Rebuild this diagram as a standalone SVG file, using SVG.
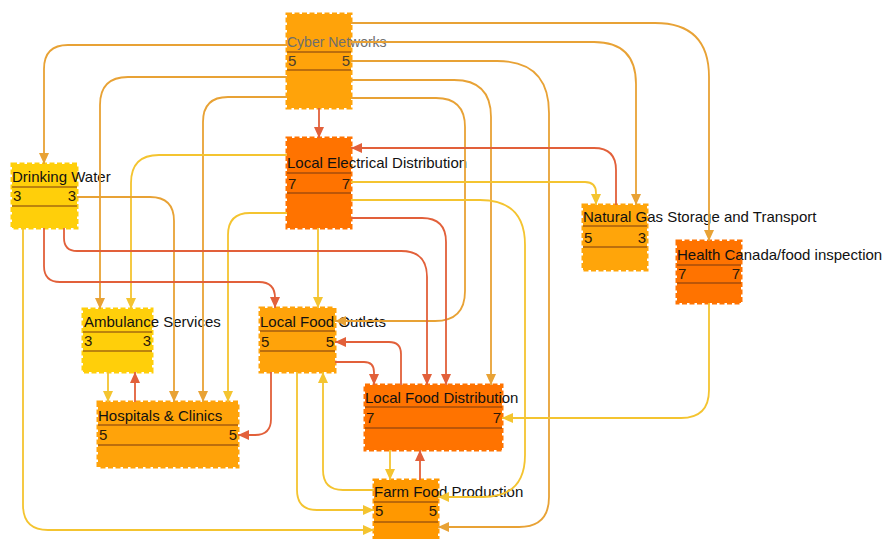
<svg xmlns="http://www.w3.org/2000/svg" width="885" height="539" viewBox="0 0 885 539">
  <defs>
    <style>
      .box { stroke-width: 3; stroke-dasharray: 5 2.5; }
      .sep { stroke: #7a3a10; stroke-width: 1.2; }
      .lbl { font-family: "Liberation Sans", Arial, sans-serif; font-size: 15px; fill: #111111; }
      .num { font-family: "Liberation Sans", Arial, sans-serif; font-size: 15px; fill: #2a1a0a; }
      .end { text-anchor: end; }
      .c { fill: none; stroke-width: 1.8; }
      .y { stroke: #F4C430; marker-end: url(#ay); }
      .o { stroke: #E8A235; marker-end: url(#ao); }
      .r { stroke: #E2603A; marker-end: url(#ar); }
    </style>
    <marker id="ay" viewBox="0 0 11 10" refX="11" refY="5" markerWidth="11" markerHeight="10" markerUnits="userSpaceOnUse" orient="auto">
      <path d="M0,0 L11,5 L0,10 z" fill="#F4C430"/>
    </marker>
    <marker id="ao" viewBox="0 0 11 10" refX="11" refY="5" markerWidth="11" markerHeight="10" markerUnits="userSpaceOnUse" orient="auto">
      <path d="M0,0 L11,5 L0,10 z" fill="#E8A235"/>
    </marker>
    <marker id="ar" viewBox="0 0 11 10" refX="11" refY="5" markerWidth="11" markerHeight="10" markerUnits="userSpaceOnUse" orient="auto">
      <path d="M0,0 L11,5 L0,10 z" fill="#E2603A"/>
    </marker>
  </defs>

  <rect width="885" height="539" fill="#ffffff"/>

  <!-- nodes -->
  <g id="cyber-networks">
    <rect class="box" x="287" y="14" width="64" height="94" fill="#FFA30A" stroke="#FFA30A"/>
    <line class="sep" x1="287" y1="52" x2="351" y2="52"/>
    <line class="sep" x1="287" y1="70" x2="351" y2="70"/>
    <text x="287" y="47" font-family="Liberation Sans, Arial, sans-serif" font-size="14" fill="#6e6e6e">Cyber Networks</text>
    <text class="num" x="288" y="66" style="fill:#4a4030">5</text>
    <text class="num end" x="350" y="66" style="fill:#4a4030">5</text>
  </g>

  <g id="local-electrical-distribution">
    <rect class="box" x="287" y="138" width="64" height="90" fill="#FF7300" stroke="#FF7300"/>
    <line class="sep" x1="287" y1="173" x2="351" y2="173"/>
    <line class="sep" x1="287" y1="193" x2="351" y2="193"/>
    <text class="lbl" x="287" y="168">Local Electrical Distribution</text>
    <text class="num" x="288" y="189">7</text>
    <text class="num end" x="350" y="189">7</text>
  </g>

  <g id="drinking-water">
    <rect class="box" x="12" y="164" width="65" height="64" fill="#FFCF0A" stroke="#FFCF0A"/>
    <line class="sep" x1="12" y1="187" x2="77" y2="187"/>
    <line class="sep" x1="12" y1="206" x2="77" y2="206"/>
    <text class="lbl" x="12" y="182">Drinking Water</text>
    <text class="num" x="13" y="201">3</text>
    <text class="num end" x="76" y="201">3</text>
  </g>

  <g id="natural-gas">
    <rect class="box" x="583" y="205" width="64" height="65" fill="#FFA50A" stroke="#FFA50A"/>
    <line class="sep" x1="583" y1="226" x2="647" y2="226"/>
    <line class="sep" x1="583" y1="247" x2="647" y2="247"/>
    <text class="lbl" x="583" y="222">Natural Gas Storage and Transport</text>
    <text class="num" x="584" y="243">5</text>
    <text class="num end" x="646" y="243">3</text>
  </g>

  <g id="health-canada">
    <rect class="box" x="677" y="241" width="64" height="62" fill="#FF7300" stroke="#FF7300"/>
    <line class="sep" x1="677" y1="265" x2="741" y2="265"/>
    <line class="sep" x1="677" y1="283" x2="741" y2="283"/>
    <text class="lbl" x="677" y="260">Health Canada/food inspection</text>
    <text class="num" x="678" y="279">7</text>
    <text class="num end" x="740" y="279">7</text>
  </g>

  <g id="ambulance-services">
    <rect class="box" x="83" y="309" width="69" height="63" fill="#FFCF0A" stroke="#FFCF0A"/>
    <line class="sep" x1="83" y1="332" x2="152" y2="332"/>
    <line class="sep" x1="83" y1="351" x2="152" y2="351"/>
    <text class="lbl" x="84" y="327">Ambulance Services</text>
    <text class="num" x="84" y="346">3</text>
    <text class="num end" x="151" y="346">3</text>
  </g>

  <g id="local-food-outlets">
    <rect class="box" x="260" y="308" width="75" height="64" fill="#FFA30A" stroke="#FFA30A"/>
    <line class="sep" x1="260" y1="331" x2="335" y2="331"/>
    <line class="sep" x1="260" y1="351" x2="335" y2="351"/>
    <text class="lbl" x="260" y="327">Local Food Outlets</text>
    <text class="num" x="261" y="347">5</text>
    <text class="num end" x="334" y="347">5</text>
  </g>

  <g id="hospitals-clinics">
    <rect class="box" x="98" y="402" width="140" height="65" fill="#FFA30A" stroke="#FFA30A"/>
    <line class="sep" x1="98" y1="425" x2="238" y2="425"/>
    <line class="sep" x1="98" y1="445" x2="238" y2="445"/>
    <text class="lbl" x="98" y="421">Hospitals &amp; Clinics</text>
    <text class="num" x="99" y="440">5</text>
    <text class="num end" x="237" y="440">5</text>
  </g>

  <g id="local-food-distribution">
    <rect class="box" x="365" y="385" width="137" height="65" fill="#FF7300" stroke="#FF7300"/>
    <line class="sep" x1="365" y1="407" x2="502" y2="407"/>
    <line class="sep" x1="365" y1="428" x2="502" y2="428"/>
    <text class="lbl" x="365" y="403">Local Food Distribution</text>
    <text class="num" x="366" y="423">7</text>
    <text class="num end" x="501" y="423">7</text>
  </g>

  <g id="farm-food-production">
    <rect class="box" x="374" y="480" width="64" height="64" fill="#FF9800" stroke="#FF9800"/>
    <line class="sep" x1="374" y1="502" x2="438" y2="502"/>
    <line class="sep" x1="374" y1="522" x2="438" y2="522"/>
    <text class="lbl" x="374" y="497">Farm Food Production</text>
    <text class="num" x="375" y="516">5</text>
    <text class="num end" x="437" y="516">5</text>
  </g>

  <!-- connectors -->
  <g id="connectors">
    <!-- from Cyber Networks -->
    <path class="c o" d="M287 45 H68 Q44 45 44 69 V164"/>
    <path class="c o" d="M287 77 H128 Q100 77 100 105 V309"/>
    <path class="c o" d="M287 97 H228 Q203 97 203 122 V402"/>
    <path class="c r" d="M319 108 V138"/>
    <path class="c o" d="M351 23 H655 Q709 23 709 77 V241"/>
    <path class="c o" d="M351 42 H594 Q636 42 636 84 V205"/>
    <path class="c o" d="M351 61 H497 Q549 61 549 113 V497 Q549 527 519 527 H438"/>
    <path class="c o" d="M351 80 H454 Q491 80 491 117 V385"/>
    <path class="c o" d="M351 98 H436 Q465 98 465 127 V291 Q465 321 435 321 H335"/>

    <!-- from Local Electrical Distribution -->
    <path class="c y" d="M287 155 H159 Q131 155 131 183 V309"/>
    <path class="c y" d="M287 213 H250 Q228 213 228 235 V402"/>
    <path class="c y" d="M351 182 H585 Q596 182 596 193 V205"/>
    <path class="c y" d="M351 200 H480 Q525 200 525 245 V455 Q525 497 483 497 H438"/>
    <path class="c r" d="M351 218 H422 Q446 218 446 242 V385"/>
    <path class="c y" d="M318 228 V308"/>

    <!-- from Natural Gas Storage and Transport -->
    <path class="c r" d="M616 205 V170 Q616 148 594 148 H351"/>

    <!-- from Drinking Water -->
    <path class="c o" d="M77 197 H150 Q174 197 174 221 V402"/>
    <path class="c r" d="M44 228 V266 Q44 282 60 282 H259 Q275 282 275 298 V308"/>
    <path class="c r" d="M64 228 V238 Q64 251 77 251 H401 Q427 251 427 277 V385"/>
    <path class="c y" d="M23 228 V505 Q23 530 48 530 H374"/>

    <!-- from Health Canada/food inspection -->
    <path class="c y" d="M709 303 V390 Q709 418 681 418 H502"/>

    <!-- Ambulance Services / Hospitals & Clinics -->
    <path class="c y" d="M108 372 V402"/>
    <path class="c r" d="M135 402 V372"/>

    <!-- from Local Food Outlets -->
    <path class="c r" d="M271 372 V419 Q271 435 255 435 H238"/>
    <path class="c r" d="M335 362 H364 Q374 362 374 372 V385"/>
    <path class="c y" d="M297 372 V490 Q297 510 317 510 H374"/>

    <!-- Local Food Distribution / Farm Food Production -->
    <path class="c r" d="M401 385 V354 Q401 342 389 342 H335"/>
    <path class="c y" d="M374 490 H343 Q323 490 323 470 V372"/>
    <path class="c y" d="M390 450 V480"/>
    <path class="c r" d="M420 480 V450"/>
  </g>
</svg>
